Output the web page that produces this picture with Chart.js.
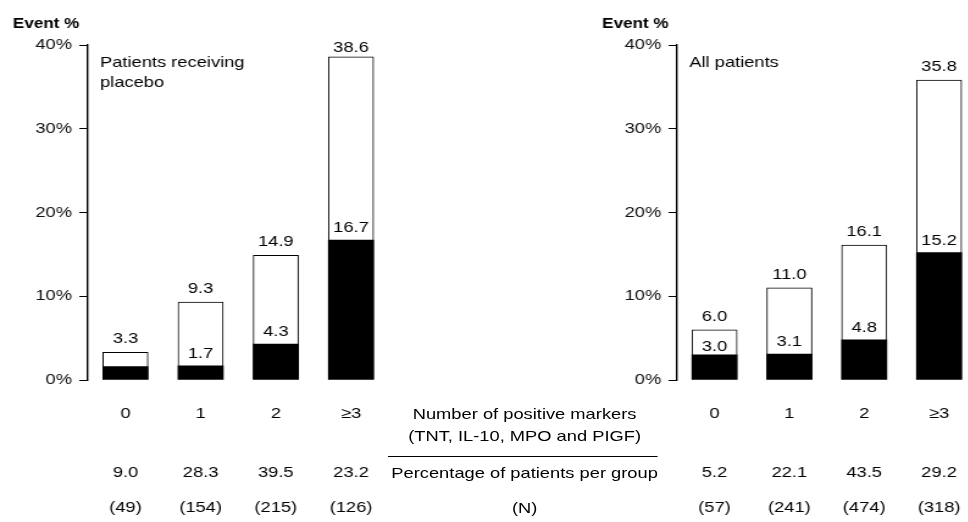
<!DOCTYPE html>
<html>
<head>
<meta charset="utf-8">
<script src="https://cdn.jsdelivr.net/npm/chart.js@4.4.1/dist/chart.umd.min.js"></script>
<style>
  html, body { margin: 0; padding: 0; background: #fff; overflow: hidden; }
  body { width: 968px; height: 522px; position: relative; }
  /* the reference is stretched sideways, so the whole figure is laid out narrow and widened */
  #stage { position: absolute; left: 0; top: 0; width: 794px; height: 522px;
           transform: scaleX(1.22); transform-origin: 0 0; }
  .panel { position: absolute; top: 0; height: 522px; }
  .mid { position: absolute; left: 280px; width: 300px; text-align: center;
         font: 15px "Liberation Sans", Arial, sans-serif; color: #000; line-height: 18px; white-space: nowrap; }
  #rule { position: absolute; left: 318px; width: 221px; top: 456px; height: 0; border-top: 1px solid #000; }
</style>
</head>
<body>
<div id="stage">
  <div class="panel" style="left:0;width:321px"><canvas id="placeboChart"></canvas></div>
  <div class="panel" style="left:483px;width:320px"><canvas id="allChart"></canvas></div>
  <div class="mid" style="top:405px">Number of positive markers</div>
  <div class="mid" style="top:427px">(TNT, IL-10, MPO and PIGF)</div>
  <div id="rule"></div>
  <div class="mid" style="top:464px">Percentage of patients per group</div>
  <div class="mid" style="top:499px">(N)</div>
</div>
<script>
// Event % by number of positive markers

const categories = ['0', '1', '2', '≥3'];
const yTicks = [0, 10, 20, 30, 40];

// placebo panel
const placeboTotal = [3.3, 9.3, 14.9, 38.6];
const placeboLower = [1.6, 1.7, 4.3, 16.7];
const placeboLowerLabels = ['', '1.7', '4.3', '16.7'];
const placeboPct = ['9.0', '28.3', '39.5', '23.2'];
const placeboN = [49, 154, 215, 126];

// all patients panel
const allTotal = [6.0, 11.0, 16.1, 35.8];
const allLower = [3.0, 3.1, 4.8, 15.2];
const allLowerLabels = ['3.0', '3.1', '4.8', '15.2'];
const allPct = ['5.2', '22.1', '43.5', '29.2'];
const allN = [57, 241, 474, 318];

const FONT = '"Liberation Sans", Arial, sans-serif';

const annotate = {
  id: 'annotate',
  afterDraw(chart, args, opts) {
    const { ctx, chartArea } = chart;
    const x = chart.scales.x, y = chart.scales.y;
    ctx.save();
    ctx.fillStyle = '#000';
    ctx.textAlign = 'center';
    ctx.textBaseline = 'alphabetic';
    ctx.font = '15px ' + FONT;

    opts.totals.forEach((v, i) => {
      const top = y.getPixelForValue(v);
      const base = Math.max(top - 9, chartArea.top + 7);
      ctx.fillText(v.toFixed(1), x.getPixelForValue(i), base);
    });

    opts.lower.forEach((v, i) => {
      if (!opts.lowerLabels[i]) return;
      const top = y.getPixelForValue(v);
      const totTop = y.getPixelForValue(opts.totals[i]);
      const base = Math.max(top - 8, totTop + 21);
      ctx.fillText(opts.lowerLabels[i], x.getPixelForValue(i), base);
    });

    // table rows under the categories
    ctx.textBaseline = 'middle';
    opts.pct.forEach((p, i) => ctx.fillText(p, x.getPixelForValue(i), 473));
    opts.n.forEach((n, i) => ctx.fillText('(' + n + ')', x.getPixelForValue(i), 508));

    // panel note
    ctx.textAlign = 'left';
    opts.note.forEach((line, i) => ctx.fillText(line, chartArea.left + 10, 63 + i * 20));

    // y title
    ctx.textAlign = 'right';
    ctx.font = 'bold 14px ' + FONT;
    ctx.fillText('Event %', chartArea.left - 7, 24);
    ctx.restore();
  }
};

function makeChart(id, total, lower, lowerLabels, pct, n, note) {
  return new Chart(document.getElementById(id), {
    type: 'bar',
    data: {
      labels: categories,
      datasets: [
        { label: 'lower', data: lower, backgroundColor: '#000', borderWidth: 0, grouped: false, barThickness: 37 },
        { label: 'total', data: total, backgroundColor: '#fff', borderColor: '#000', borderWidth: 1, grouped: false, barThickness: 37 }
      ]
    },
    options: {
      responsive: true,
      maintainAspectRatio: false,
      animation: false,
      layout: { padding: { top: 45, left: 0, right: 0, bottom: 0 } },
      plugins: {
        legend: { display: false },
        tooltip: { enabled: false },
        annotate: { totals: total, lower: lower, lowerLabels: lowerLabels, pct: pct, n: n, note: note }
      },
      scales: {
        x: {
          grid: { display: false, drawTicks: false },
          border: { display: false },
          ticks: { color: '#000', font: { family: FONT, size: 15 }, padding: 25, maxRotation: 0, autoSkip: false },
          afterFit: s => { s.height = 142; }
        },
        y: {
          min: 0, max: 40,
          afterBuildTicks: s => { s.ticks = yTicks.map(v => ({ value: v })); },
          grid: { drawOnChartArea: false, drawTicks: true, tickLength: 7, color: '#000', tickWidth: 1 },
          border: { display: true, color: '#000', width: 1.4 },
          ticks: { color: '#111', font: { family: FONT, size: 15 }, padding: 6, callback: v => v + '%' },
          afterFit: s => { s.width = 72; }
        }
      }
    },
    plugins: [annotate]
  });
}

makeChart('placeboChart', placeboTotal, placeboLower, placeboLowerLabels, placeboPct, placeboN,
  ['Patients receiving', 'placebo']);
makeChart('allChart', allTotal, allLower, allLowerLabels, allPct, allN, ['All patients']);
</script>
</body>
</html>
